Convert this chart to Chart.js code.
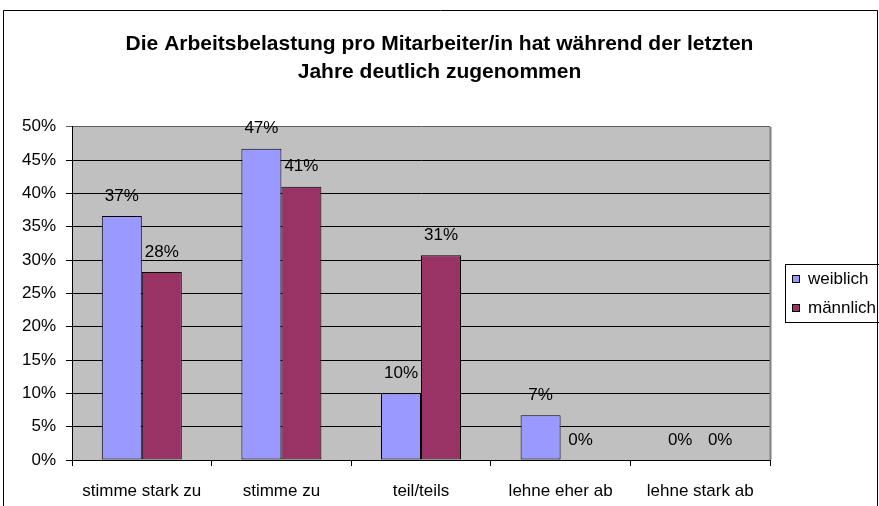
<!DOCTYPE html>
<html>
<head>
<meta charset="utf-8">
<script src="https://cdn.jsdelivr.net/npm/chart.js@4/dist/chart.umd.min.js"></script>
<style>
    html, body { margin: 0; padding: 0; background: #fff; }
    #wrap { width: 879px; height: 506px; }
</style>
</head>
<body>
<div id="wrap"><canvas id="chart" width="879" height="506"></canvas></div>
<script>
// data (percent)
const categories = ['stimme stark zu', 'stimme zu', 'teil/teils', 'lehne eher ab', 'lehne stark ab'];
const weiblich = [36.6, 46.7, 10.0, 6.7, 0];
const maennlich = [28.2, 41.0, 30.7, 0, 0];
const seriesNames = ['weiblich', 'männlich'];
const yTicks = [0, 5, 10, 15, 20, 25, 30, 35, 40, 45, 50];
const titleLines = ['Die Arbeitsbelastung pro Mitarbeiter/in hat während der letzten', 'Jahre deutlich zugenommen'];

const FONT = '"Liberation Sans", Arial, sans-serif';

// white page, gray plot area, outer frame
const framePlugin = {
    id: 'frame',
    beforeDraw(chart) {
        const { ctx, chartArea } = chart;
        ctx.save();
        ctx.fillStyle = '#fff';
        ctx.fillRect(0, 0, chart.width, chart.height);
        ctx.fillStyle = '#c0c0c0';
        ctx.fillRect(chartArea.left, chartArea.top, chartArea.right - chartArea.left, chartArea.bottom - chartArea.top);
        ctx.restore();
    },
    afterDraw(chart) {
        const { ctx, chartArea } = chart;
        ctx.save();
        // plot area right border
        ctx.strokeStyle = '#808080';
        ctx.lineWidth = 2;
        ctx.beginPath();
        ctx.moveTo(chartArea.right + 0.5, chartArea.top);
        ctx.lineTo(chartArea.right + 0.5, chartArea.bottom);
        ctx.stroke();
        // chart frame
        ctx.strokeStyle = '#000';
        ctx.lineWidth = 1;
        ctx.beginPath();
        ctx.moveTo(3.5, chart.height + 2);
        ctx.lineTo(3.5, 10.5);
        ctx.lineTo(877.5, 10.5);
        ctx.lineTo(877.5, chart.height + 2);
        ctx.stroke();
        ctx.restore();
    }
};

// value labels above the bars
const valueLabels = {
    id: 'valueLabels',
    afterDatasetsDraw(chart) {
        const ctx = chart.ctx;
        ctx.save();
        ctx.font = '17px ' + FONT;
        ctx.fillStyle = '#000';
        ctx.textAlign = 'center';
        ctx.textBaseline = 'middle';
        chart.data.datasets.forEach((ds, i) => {
            chart.getDatasetMeta(i).data.forEach((bar, j) => {
                ctx.fillText(Math.round(ds.data[j]) + '%', bar.x, bar.y - 20);
            });
        });
        ctx.restore();
    }
};

// boxed legend at the right, like the spreadsheet original
const boxLegend = {
    id: 'boxLegend',
    afterDraw(chart) {
        const ctx = chart.ctx;
        const x = chart.chartArea.right + 15;
        const top = 264;
        ctx.save();
        ctx.strokeStyle = '#000';
        ctx.lineWidth = 1;
        ctx.strokeRect(x + 0.5, top + 0.5, 110, 58);
        ctx.font = '17px ' + FONT;
        ctx.textBaseline = 'middle';
        chart.data.datasets.forEach((ds, i) => {
            const cy = top + 15 + i * 29;
            ctx.fillStyle = ds.backgroundColor;
            ctx.fillRect(x + 7, cy - 4, 8, 8);
            ctx.strokeStyle = '#000';
            ctx.strokeRect(x + 7.5, cy - 3.5, 7, 7);
            ctx.fillStyle = '#000';
            ctx.fillText(ds.label, x + 23, cy);
        });
        ctx.restore();
    }
};

new Chart(document.getElementById('chart'), {
    type: 'bar',
    data: {
        labels: categories,
        datasets: [
            {
                label: seriesNames[0],
                data: weiblich,
                backgroundColor: '#9999ff',
                borderColor: '#000',
                borderWidth: 1,
                borderSkipped: false
            },
            {
                label: seriesNames[1],
                data: maennlich,
                backgroundColor: '#993366',
                borderColor: '#000',
                borderWidth: 1,
                borderSkipped: false
            }
        ]
    },
    options: {
        responsive: false,
        animation: false,
        devicePixelRatio: 1,
        layout: { padding: 0 },
        datasets: {
            bar: { barPercentage: 1.0, categoryPercentage: 0.573 }
        },
        plugins: {
            legend: { display: false },
            tooltip: { enabled: false },
            title: {
                display: true,
                text: titleLines,
                color: '#000',
                font: { family: FONT, size: 21, weight: 'bold', lineHeight: 1.35 },
                padding: { top: 30, bottom: 40 }
            }
        },
        scales: {
            x: {
                grid: {
                    offset: true,
                    drawOnChartArea: false,
                    drawTicks: true,
                    tickLength: 6,
                    color: '#000'
                },
                border: { color: '#000', width: 1 },
                ticks: {
                    color: '#000',
                    font: { family: FONT, size: 17 },
                    padding: 15,
                    maxRotation: 0
                },
                afterFit(scale) { scale.height = 46; }
            },
            y: {
                min: 0,
                max: 50,
                afterBuildTicks(scale) { scale.ticks = yTicks.map(v => ({ value: v })); },
                grid: {
                    color: ctx => (ctx.tick && ctx.tick.value === 50 ? '#606060' : '#000'),
                    drawTicks: true,
                    tickLength: 6
                },
                border: { color: '#000', width: 1 },
                ticks: {
                    color: '#000',
                    font: { family: FONT, size: 17 },
                    padding: 10,
                    callback: v => v + '%'
                },
                afterFit(scale) { scale.width = 72; }
            },
            pad: {
                type: 'linear',
                position: 'right',
                display: true,
                grid: { display: false },
                border: { display: false },
                ticks: { display: false },
                afterFit(scale) { scale.width = 109; }
            }
        }
    },
    plugins: [framePlugin, valueLabels, boxLegend]
});
</script>
</body>
</html>
